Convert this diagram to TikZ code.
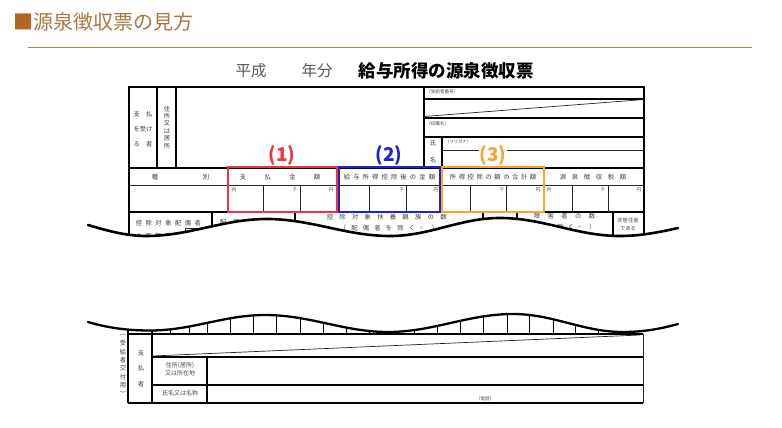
\documentclass[tikz,border=0pt]{standalone}
\usepackage{fontspec}
\newfontfamily\cjk{Noto Sans CJK JP}
\definecolor{sqc}{HTML}{B5671E}
\definecolor{ttc}{HTML}{A8773F}
\definecolor{rulec}{HTML}{C08038}
\definecolor{redc}{HTML}{E8383D}
\definecolor{bluec}{HTML}{1E22D2}
\definecolor{orc}{HTML}{F5A533}
\newcommand\rowchars[5]{\foreach \ch [count=\ii from 0] in {#5} \node[#4] at ({#1+#2*\ii},#3) {\ch};}
\newcommand\colchars[5]{\foreach \ch [count=\ii from 0] in {#5} \node[#4] at (#1,{#2+#3*\ii}) {\ch};}
\begin{document}
\begin{tikzpicture}[x=1pt,y=-1pt,
  thinl/.style={line width=0.7pt, black!85},
  thickl/.style={line width=1.7pt, black},
  midl/.style={line width=1.1pt, black},
  txt/.style={inner sep=0pt, font=\cjk\fontsize{6.3}{7}\selectfont, text=black!75},
  smalltxt/.style={inner sep=0pt, font=\cjk\fontsize{5.3}{6}\selectfont, text=black!70},
  tinytxt/.style={inner sep=0pt, font=\cjk\fontsize{4.6}{5}\selectfont, text=black!70, anchor=west},
  colbox/.style={line width=2pt, line join=miter},
  lab/.style={inner sep=1pt, fill=white, font=\cjk\bfseries\fontsize{19}{21}\selectfont},
  wave/.style={line width=2.6pt, black, line cap=round}
]
\useasboundingbox (0,0) rectangle (782,428);
\fill[white] (0,0) rectangle (782,428);

% ---------- page title ----------
\node[anchor=west, inner sep=0pt, font=\cjk\fontsize{20}{22}\selectfont] (title) at (13,22)
  {\textcolor{sqc}{■}\textcolor{ttc}{源泉徴収票の見方}};
\draw[rulec, line width=1.2pt] (28,47.5) -- (752,47.5);

% ---------- form title ----------
\node[inner sep=0pt, font=\cjk\fontsize{15.5}{17}\selectfont, text=black!65] (heisei) at (251,71) {平成};
\node[inner sep=0pt, font=\cjk\fontsize{15.5}{17}\selectfont, text=black!65] (nenbun) at (317,71) {年分};
\node[inner sep=0pt, font=\cjk\bfseries\fontsize{17.5}{19}\selectfont] (ftitle) at (446,71) {給与所得の源泉徴収票};

% ---------- upper part of the form ----------
\begin{scope}
\clip (88,80) -- (88,225) .. controls (108,231) and (127,236) .. (146,236)
  .. controls (190,236) and (223,219) .. (267,219)
  .. controls (311,219) and (346,236) .. (390,236)
  .. controls (430,236) and (460,218) .. (500,218)
  .. controls (543,218) and (577,236) .. (620,236)
  .. controls (641,236) and (660,232) .. (678,228) -- (678,80) -- cycle;
\draw[thickl] (129,250) -- (129,87) -- (644,87) -- (644,250);
\draw[thickl] (157,87) -- (157,168);
\draw[thickl] (176,87) -- (176,168);
\draw[midl] (424,87) -- (424,168);
\draw[midl] (424,99) -- (644,99);
\draw[midl] (424,118) -- (644,118);
\draw[midl] (424,137) -- (644,137);
\draw[thinl] (424,116.5) -- (644,99.5);
\draw[midl] (442,137) -- (442,168);
\draw[thinl] (442,150) -- (644,150);
\draw[midl] (129,168) -- (644,168);
\draw[thinl] (129,185) -- (644,185);
\draw[midl] (129,212) -- (644,212);
\foreach \xx in {228,338,441,544} \draw[midl] (\xx,168) -- (\xx,212);
\foreach \xx in {263,300,369,406,470,506,572,608} \draw[thinl] (\xx,185) -- (\xx,212);
\foreach \xx in {212,295,483,517,613} \draw[midl] (\xx,212) -- (\xx,250);
\draw[thinl] (185,250) -- (185,228) -- (212,228);
% texts, top block
\node[txt] (shi1) at (143,114) {支　払};
\node[txt] (shi2) at (143,129) {を受け};
\node[txt] (shi3) at (143,144) {る　者};
\colchars{167}{109}{7.4}{txt}{住,所,又,は,居,所}
\node[tinytxt] (jukyu) at (426,92) {（受給者番号）};
\node[tinytxt] (yaku) at (426,123.5) {（役職名）};
\node[tinytxt, font=\cjk\fontsize{4.3}{5}\selectfont] (furi) at (445,142) {（フリガナ）};
\node[txt] (shimei1) at (433,143) {氏};
\node[txt] (shimei2) at (433,160) {名};
% header row
\rowchars{155}{51}{177}{txt}{種,別}
\rowchars{243}{24.7}{177}{txt}{支,払,金,額}
\rowchars{347}{9.44}{177}{txt}{給,与,所,得,控,除,後,の,金,額}
\rowchars{453}{8.9}{177}{txt}{所,得,控,除,の,額,の,合,計,額}
\rowchars{563}{12}{177}{txt}{源,泉,徴,収,税,額}
% amount row units
\foreach \xx/\uu in {234/内,295/千,331/円,402/千,436/円,502/千,538/円,549/内,603/千,639/円}
  \node[smalltxt, font=\cjk\fontsize{4.8}{5}\selectfont] at (\xx,189.5) {\uu};
% lower row texts
\rowchars{139}{9.8}{223}{txt}{控,除,対,象,配,偶,者}
\rowchars{139}{9.8}{236}{txt}{の,有,無,等}
\rowchars{223}{13.5}{222}{txt}{配,偶,者,特,別}
\rowchars{330}{12.6}{217}{txt}{控,除,対,象,扶,養,親,族,の,数}
\rowchars{343}{11.5}{228}{txt}{（,配,偶,者,を,除,く,。,）}
\rowchars{537}{13.75}{216}{txt}{障,害,者,の,数}
\rowchars{518}{10.6}{227}{txt}{（,本,人,を,除,く,。,）}
\node[smalltxt] (hikyo1) at (628,221) {非居住者};
\node[smalltxt] (hikyo2) at (628,229) {である};
\node[smalltxt] (hikyo3) at (628,237) {親族の数};
\end{scope}

% coloured boxes and labels
\draw[redc, colbox] (228,166.5) -- (337,166.5) -- (337,212) -- (228,212) -- cycle;
\draw[bluec, colbox] (338.5,166.5) -- (440,166.5) -- (440,212) -- (338.5,212) -- cycle;
\draw[orc, colbox] (441.5,166.5) -- (544,166.5) -- (544,212) -- (441.5,212) -- cycle;
\node[lab, text=redc] (l1) at (282,155.5) {(1)};
\node[lab, text=bluec] (l2) at (389,155.5) {(2)};
\node[lab, text=orc] (l3) at (493,155) {(3)};

% upper break line
\draw[wave] (88,225) .. controls (108,231) and (127,236) .. (146,236)
  .. controls (190,236) and (223,219) .. (267,219)
  .. controls (311,219) and (346,236) .. (390,236)
  .. controls (430,236) and (460,218) .. (500,218)
  .. controls (543,218) and (577,236) .. (620,236)
  .. controls (641,236) and (660,232) .. (678,228);

% ---------- lower part of the form ----------
\begin{scope}
\clip (88,322) .. controls (108,328) and (128,330.5) .. (150,330.5)
  .. controls (192,330.5) and (224,315) .. (265,315)
  .. controls (310,315) and (344,332) .. (388,332)
  .. controls (433,332) and (468,314) .. (513,314)
  .. controls (553,314) and (583,332) .. (623,332)
  .. controls (643,332) and (660,329) .. (678,324) -- (678,420) -- (88,420) -- cycle;
\foreach \xx in {170,189,207,230,253,276,300,323,346,369,392,414,437,460,483,507,529,553,575,598,622}
  \draw[thinl, line width=1pt, black] (\xx,300) -- (\xx,334);
\draw[thickl] (128,300) -- (128,403);
\draw[thickl] (152,300) -- (152,403);
\end{scope}
\draw[wave, line width=2.3pt] (88,322) .. controls (108,328) and (128,330.5) .. (150,330.5)
  .. controls (192,330.5) and (224,315) .. (265,315)
  .. controls (310,315) and (344,332) .. (388,332)
  .. controls (433,332) and (468,314) .. (513,314)
  .. controls (553,314) and (583,332) .. (623,332)
  .. controls (643,332) and (660,329) .. (678,324);
\draw[midl, line width=1.4pt] (128,334) -- (643,334);
\draw[thinl, line width=1pt] (643,334) -- (643,403);
\draw[midl, line width=1.4pt] (128,403) -- (643,403);
\draw[thinl] (152,356) -- (640,335);
\draw[thickl] (152,357) -- (643,357);
\draw[thickl] (152,385) -- (643,385);
\draw[midl] (207,357) -- (207,403);
\colchars{141}{353}{15.5}{txt}{支,払,者}
\node[smalltxt, font=\cjk\fontsize{6}{7}\selectfont] (jusho1) at (180,366) {住所(居所)};
\node[smalltxt, font=\cjk\fontsize{6}{7}\selectfont] (jusho2) at (180,373.5) {又は所在地};
\node[smalltxt, font=\cjk\fontsize{6}{7}\selectfont] (namae) at (180,393.5) {氏名又は名称};
\node[smalltxt, font=\cjk\fontsize{4.5}{5}\selectfont] (denwa) at (485,399) {（電話）};
\colchars{123}{335}{8.4}{txt}{︵,受,給,者,交,付,用,︶}
\end{tikzpicture}
\end{document}
